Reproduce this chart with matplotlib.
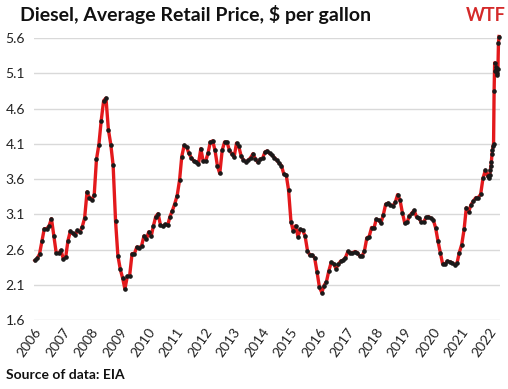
import matplotlib.pyplot as plt
import pandas as pd

# monthly averages 2006-2021, then weekly for 2022 (US diesel retail, $/gal)
years = list(range(2006, 2022))
monthly = [
    [2.447, 2.480, 2.538, 2.717, 2.897, 2.898, 2.934, 3.040, 2.788, 2.555, 2.546, 2.591],
    [2.468, 2.502, 2.727, 2.863, 2.829, 2.805, 2.872, 2.848, 2.926, 3.049, 3.420, 3.338],
    [3.306, 3.376, 3.881, 4.090, 4.431, 4.712, 4.750, 4.302, 4.091, 3.795, 3.006, 2.514],
    [2.320, 2.192, 2.040, 2.220, 2.231, 2.544, 2.543, 2.637, 2.627, 2.655, 2.794, 2.745],
    [2.853, 2.787, 2.931, 3.069, 3.110, 2.948, 2.932, 2.960, 2.944, 3.070, 3.154, 3.250],
    [3.367, 3.587, 3.921, 4.080, 4.061, 3.964, 3.905, 3.860, 3.843, 3.814, 4.034, 3.851],
    [3.851, 3.968, 4.123, 4.144, 4.007, 3.787, 3.680, 4.010, 4.127, 4.125, 4.014, 3.961],
    [3.913, 4.111, 4.068, 3.930, 3.870, 3.849, 3.866, 3.905, 3.961, 3.885, 3.839, 3.882],
    [3.893, 3.984, 4.001, 3.964, 3.943, 3.906, 3.870, 3.830, 3.791, 3.672, 3.660, 3.445],
    [2.997, 2.858, 2.937, 2.785, 2.888, 2.873, 2.794, 2.586, 2.520, 2.524, 2.483, 2.287],
    [2.070, 1.990, 2.091, 2.148, 2.298, 2.421, 2.403, 2.330, 2.393, 2.439, 2.449, 2.487],
    [2.575, 2.557, 2.554, 2.573, 2.559, 2.511, 2.507, 2.580, 2.767, 2.786, 2.914, 2.903],
    [3.034, 3.018, 2.979, 3.096, 3.244, 3.260, 3.230, 3.224, 3.270, 3.380, 3.303, 3.126],
    [2.976, 2.988, 3.078, 3.116, 3.157, 3.064, 3.048, 2.990, 2.990, 3.056, 3.069, 3.048],
    [3.026, 2.910, 2.729, 2.558, 2.397, 2.396, 2.436, 2.429, 2.414, 2.389, 2.405, 2.558],
    [2.671, 2.889, 3.193, 3.140, 3.237, 3.292, 3.337, 3.339, 3.384, 3.612, 3.727, 3.641],
]
dates_2022 = ["2022-01-03", "2022-01-10", "2022-01-17", "2022-01-24", "2022-01-31",
              "2022-02-07", "2022-02-14", "2022-02-21", "2022-02-28", "2022-03-07",
              "2022-03-14", "2022-03-21", "2022-03-28", "2022-04-04", "2022-04-11",
              "2022-04-18", "2022-04-25", "2022-05-02", "2022-05-09"]
prices_2022 = [3.613, 3.657, 3.725, 3.780, 3.846, 3.951, 4.010, 4.064, 4.104, 4.849,
               5.250, 5.134, 5.185, 5.144, 5.073, 5.101, 5.160, 5.536, 5.623]

dates = []
prices = []
for y, row in zip(years, monthly):
    for m, v in enumerate(row, start=1):
        dates.append(pd.Timestamp(y, m, 15))
        prices.append(v)
dates += [pd.Timestamp(d) for d in dates_2022]
prices += prices_2022

yticks = [1.6, 2.1, 2.6, 3.1, 3.6, 4.1, 4.6, 5.1, 5.6]
tick_years = list(range(2006, 2023))

plt.rcParams["font.family"] = ["Lato", "DejaVu Sans"]

fig = plt.figure(figsize=(5.08, 3.89), dpi=100)
ax = fig.add_axes([0.066, 0.177, 0.918, 0.725])

ax.plot(dates, prices, color="#e3191c", lw=2.4, marker="o", ms=2.3,
        mfc="#1a1a1a", mec="#1a1a1a", clip_on=False, zorder=3)

ax.set_ylim(1.6, 5.6)
ax.set_yticks(yticks)
ax.set_yticklabels([f"{v:.1f}" for v in yticks])
ax.set_xlim(pd.Timestamp("2005-12-28"), pd.Timestamp("2022-05-20"))
ax.set_xticks([pd.Timestamp(y, 1, 1) for y in tick_years])
ax.set_xticklabels([str(y) for y in tick_years], rotation=55,
                   ha="right", rotation_mode="anchor")

ax.grid(axis="y", color="#d9d9d9", lw=1)
ax.set_axisbelow(True)
for s in ax.spines.values():
    s.set_visible(False)
ax.tick_params(length=0, labelsize=10, colors="#222222")
ax.tick_params(axis="y", pad=6)
ax.tick_params(axis="x", pad=4)

fig.text(0.04, 0.945, "Diesel, Average Retail Price, $ per gallon",
         fontsize=14, fontweight="bold", color="#111111")
fig.text(0.995, 0.945, "WTF", fontsize=13, fontweight="bold",
         color="#d42a2a", ha="right")
fig.text(0.012, 0.025, "Source of data: EIA", fontsize=10,
         fontweight="bold", color="#111111")

fig.savefig("out.png", dpi=100, facecolor="white")
